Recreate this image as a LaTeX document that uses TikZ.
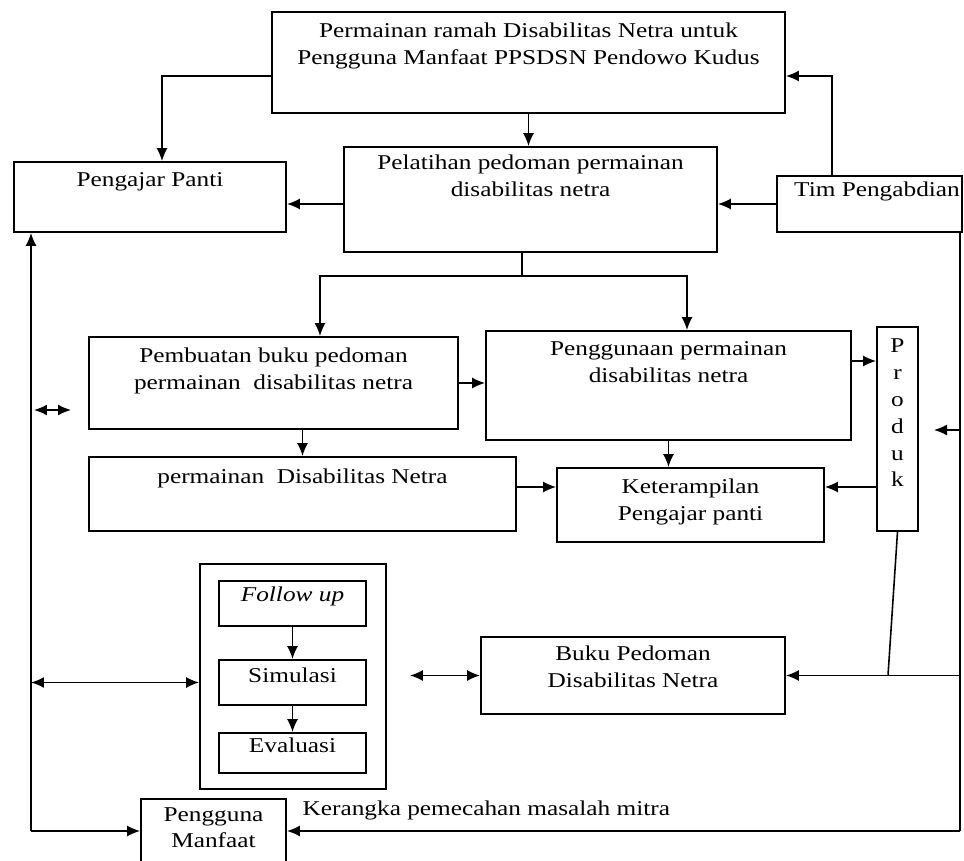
\documentclass[tikz,border=0pt]{standalone}
\usepackage{fontspec}
\setmainfont[FakeStretch=1.2]{Liberation Serif}
\usetikzlibrary{positioning, fit, arrows.meta}

\tikzset{
    box/.style={draw, line width=1pt, inner sep=0pt},
    txt/.style={align=center, font=\fontsize{12}{15.3}\selectfont},
    >={Latex[length=2.6mm, width=2.2mm]},
}

\begin{document}
\begin{tikzpicture}[x=0.02cm, y=-0.02cm, line width=0.9pt]
    \useasboundingbox (0, 0) rectangle (964, 861);

    % Upper boxes
    \node[box, fit={(272, 12) (785, 113)}] (ramah) {};
    \node[txt, below=1mm of ramah.north] {Permainan ramah Disabilitas Netra untuk\\Pengguna Manfaat PPSDSN Pendowo Kudus};
    \node[box, fit={(14, 162) (286, 232)}] (panti) {};
    \node[txt, below=1mm of panti.north] {Pengajar Panti};
    \node[box, fit={(344, 147) (717, 252)}] (pel) {};
    \node[txt, below=0.5mm of pel.north] {Pelatihan pedoman permainan\\disabilitas netra};
    \node[box, fit={(777, 176) (962, 232)}] (tim) {};
    \node[txt, below=0mm of tim.north, xshift=0.15cm] {Tim Pengabdian};

    % Middle boxes
    \node[box, fit={(89, 337) (458, 429)}] (pemb) {};
    \node[txt, below=1mm of pemb.north] {Pembuatan buku pedoman\\permainan\ \ disabilitas netra};
    \node[box, fit={(486, 331) (851, 440)}] (peng) {};
    \node[txt, below=1mm of peng.north] {Penggunaan permainan\\disabilitas netra};
    \node[box, fit={(877, 327) (918, 531)}] (produk) {};
    \node[txt, below=1.2mm of produk.north] {P\\r\\o\\d\\u\\k};
    \node[box, fit={(89, 457) (516, 531)}] (perm) {};
    \node[txt, below=1.2mm of perm.north] {permainan\ \ Disabilitas Netra};
    \node[box, fit={(557, 468) (824, 542)}] (ket) {};
    \node[txt, below=1mm of ket.north] {Keterampilan\\Pengajar panti};

    % Lower boxes
    \node[box, fit={(200, 564) (386, 789)}] (grp) {};
    \node[box, txt, fit={(219, 581) (366, 626)}] (fu) {\textit{Follow up}};
    \node[box, txt, fit={(219, 660) (366, 705)}] (sim) {Simulasi};
    \node[box, txt, fit={(219, 733) (366, 773)}] (evl) {Evaluasi};
    \node[box, fit={(481, 637) (785, 714)}] (buku) {};
    \node[txt, below=0.6mm of buku.north] {Buku Pedoman\\Disabilitas Netra};
    \node[box, fit={(141, 799) (286, 875)}] (pm) {};
    \node[txt, below=0.5mm of pm.north] {Pengguna\\Manfaat};
    \node[txt, anchor=west] (kerangka) at (296, 810) {Kerangka pemecahan masalah mitra};

    % Connectors
    \draw[->] (ramah.south) -- (ramah.south |- pel.north);
    \draw[->] ([yshift=-0.27cm]ramah.west) -| ([xshift=0.24cm]panti.north);
    \draw[->] ([xshift=-0.75cm]tim.north) |- ([yshift=-0.27cm]ramah.east);
    \draw[->] (tim.west) -- (tim.west -| pel.east);
    \draw[->] (pel.west |- tim.west) -- (tim.west -| panti.east);

    \coordinate (split) at (522, 276);
    \draw (pel.south -| split) -- (split);
    \draw[->] (split) -| ([xshift=0.93cm]pemb.north);
    \draw[->] (split) -| ([xshift=0.37cm]peng.north);
    \draw[->] (pemb.east) -- (pemb.east -| peng.west);
    \draw[->] ([yshift=0.49cm]peng.east) -- ([yshift=0.49cm]peng.east -| produk.west);
    \draw[->] (perm.north |- pemb.south) -- (perm.north);
    \draw[->] (peng.south) -- (peng.south |- ket.north);
    \coordinate (ketin) at ([yshift=0.36cm]ket.west);
    \draw[->] (perm.east |- ketin) -- (ketin);
    \draw[->] (produk.west |- ketin) -- (ketin -| ket.east);

    \draw[->] (fu) -- (sim);
    \draw[->] (sim) -- (evl);

    % Outer lines
    \coordinate (rbot) at (960, 831);
    \coordinate (lbot) at (31, 831);
    \coordinate (prodin) at (934, 430);
    \draw (tim.south -| rbot) -- (rbot);
    \draw[->] (rbot |- prodin) -- (prodin);
    \draw[->] (rbot |- buku.east) -- (buku.east);
    \draw (produk.south) -- ([xshift=-0.19cm]produk.south |- buku.east);
    \draw[->] (rbot) -- (rbot -| pm.east);
    \draw[->] (lbot) -- (lbot -| pm.west);
    \draw[->] (lbot) -- (lbot |- panti.south);

    \coordinate (dl) at (34, 410);
    \coordinate (dr) at (71, 410);
    \draw[<->] (dl) -- (dr);
    \draw[<->] (lbot |- sim.west) -- (sim.west -| grp.west);
    \draw[<->] ([xshift=0.46cm]grp.east |- buku.west) -- (buku.west);
\end{tikzpicture}
\end{document}
